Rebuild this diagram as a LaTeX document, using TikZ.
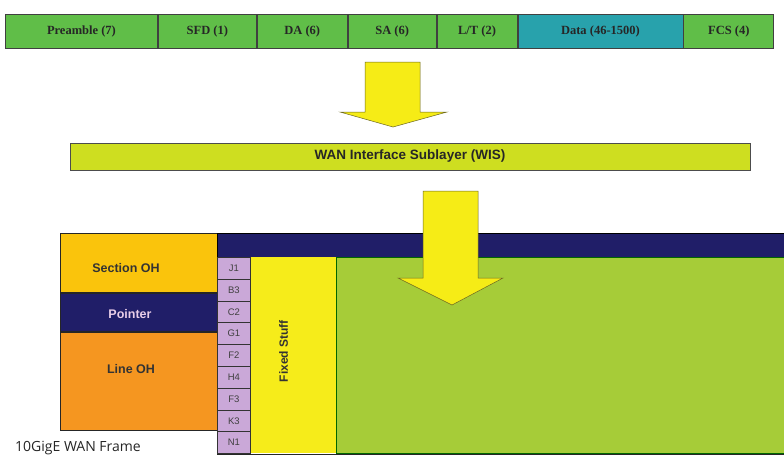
\documentclass[tikz,border=0pt]{standalone}
\usepackage{fontspec}
\setmainfont{Liberation Serif}
\setsansfont{Liberation Sans}
\newfontfamily\capfont{Open Sans}
\usepackage{tikz}
\usetikzlibrary{positioning}
\definecolor{framegreen}{RGB}{96,190,72}
\definecolor{datateal}{RGB}{40,162,172}
\definecolor{wislime}{RGB}{206,222,32}
\definecolor{arrowyellow}{RGB}{246,236,22}
\definecolor{sectionoh}{RGB}{250,196,12}
\definecolor{navyband}{RGB}{32,30,104}
\definecolor{lineoh}{RGB}{245,150,32}
\definecolor{pohlilac}{RGB}{202,168,216}
\definecolor{fixedyellow}{RGB}{246,236,26}
\definecolor{payload}{RGB}{166,204,56}
\tikzset{field/.style = {draw=black!75, line width=0.9pt, fill=framegreen, minimum height=34,
    inner sep=0, font=\bfseries\fontsize{12.5}{14}\selectfont, text=black!85}}
\tikzset{ohbox/.style = {draw=black!85, line width=1pt, minimum width=157, inner sep=0}}
\tikzset{ohtext/.style = {font=\sffamily\bfseries\fontsize{12.5}{14}\selectfont, text=black!80}}
\tikzset{pohcell/.style = {draw=black!80, line width=0.8pt, fill=pohlilac, minimum width=33,
    minimum height=21.8, inner sep=0, font=\sffamily\fontsize{9.5}{10}\selectfont, text=black!75}}
\tikzset{bigarrow/.style = {fill=arrowyellow, draw=olive!70!black, line width=0.5pt, line join=miter}}

\begin{document}
\begin{tikzpicture}[x=1pt, y=-1pt]
  \fill[white] (0,0) rectangle (784,456);
  \useasboundingbox (0,0) rectangle (784,456);

  % ethernet frame
  \node[field, minimum width=152, anchor=west] (pre) at (5,31) {Preamble (7)};
  \node[field, minimum width=98, right=0pt of pre] (sfd) {SFD (1)};
  \node[field, minimum width=90, right=0pt of sfd] (da) {DA (6)};
  \node[field, minimum width=88, right=0pt of da] (sa) {SA (6)};
  \node[field, minimum width=80, right=0pt of sa] (lt) {L/T (2)};
  \node[field, minimum width=165, fill=datateal, right=0pt of lt] (data) {Data (46-1500)};
  \node[field, minimum width=90, right=0pt of data] (fcs) {FCS (4)};

  \filldraw[bigarrow] (365,62) -- (420,62) -- (420,112) -- (447,112) -- (393,127)
    -- (340,112) -- (365,112) -- cycle;

  % WIS
  \node[draw=black!70, line width=0.9pt, fill=wislime, minimum width=680, minimum height=27,
    inner sep=0, font=\sffamily\bfseries\fontsize{13.5}{14}\selectfont, text=black!85]
    (wis) at (410,156.5) {WAN Interface Sublayer (WIS)};

  % WAN frame
  \node[ohbox, fill=sectionoh, minimum height=59, anchor=north west] (soh) at (60,233) {};
  \node[ohbox, fill=navyband, minimum height=38, below=0pt of soh] (ptr) {};
  \node[ohbox, fill=lineoh, minimum height=98, below=0pt of ptr] (loh) {};
  \node[ohtext] (sohlbl) at ([xshift=-13,yshift=-5.5]soh.center) {Section OH};
  \node[ohtext, text={rgb,255:red,232;green,205;blue,232}]
    (ptrlbl) at ([xshift=-9,yshift=-2]ptr.center) {Pointer};
  \node[ohtext] (lohlbl) at ([xshift=-8,yshift=12]loh.center) {Line OH};

  \node[draw=black, line width=0.8pt, fill=navyband, minimum width=570, minimum height=24,
    inner sep=0, anchor=north west] (band) at (217,233) {};
  \foreach \lbl [count=\i] in {J1,B3,C2,G1,F2,H4,F3,K3,N1}
    \node[pohcell, anchor=north west] (poh\i) at (217,{257+(\i-1)*21.8}) {\lbl};
  \node[fill=fixedyellow, minimum width=85, minimum height=196, inner sep=0,
    anchor=north west] (fixed) at (poh1.north east) {};
  \node[rotate=90, font=\sffamily\bfseries\fontsize{12}{12}\selectfont, text=black!80]
    (fixedlbl) at ([xshift=-10,yshift=4]fixed.center) {Fixed Stuff};
  \node[draw=black!60!green, line width=0.8pt, fill=payload, minimum width=460,
    minimum height=196, inner sep=0, anchor=north west] (pay) at (fixed.north east) {};
  \draw[black!85, line width=1pt] (poh9.south west) -- ++(570,0);

  \filldraw[bigarrow] (423,191) -- (478,191) -- (478,278) -- (503,278) -- (452,305)
    -- (398,278) -- (423,278) -- cycle;

  \node[anchor=base west, inner sep=0, font=\capfont\fontsize{14}{14}\selectfont, text=black!85]
    (cap) at (15,451.5) {10GigE WAN Frame};
\end{tikzpicture}
\end{document}
